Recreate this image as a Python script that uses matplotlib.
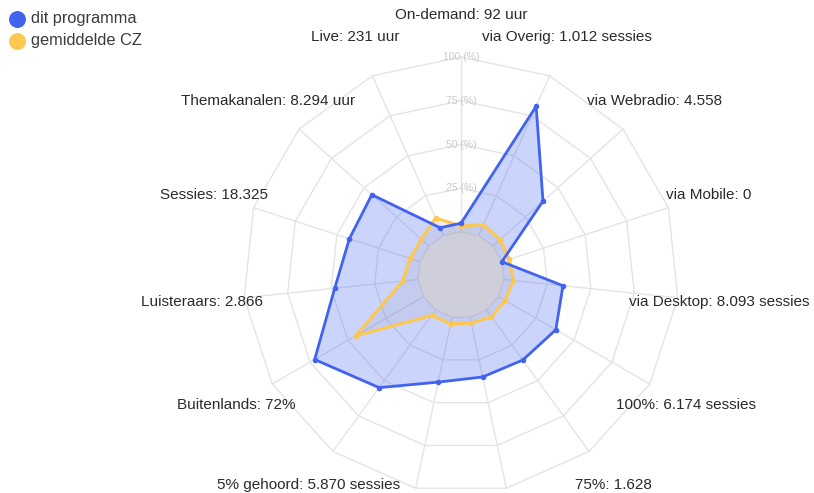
import numpy as np
import matplotlib
matplotlib.use("Agg")
import matplotlib.pyplot as plt

labels = ["On-demand: 92 uur", "via Overig: 1.012 sessies", "via Webradio: 4.558",
          "via Mobile: 0", "via Desktop: 8.093 sessies", "100%: 6.174 sessies",
          "75%: 1.628", "", "", "5% gehoord: 5.870 sessies", "Buitenlands: 72%",
          "Luisteraars: 2.866", "Sessies: 18.325", "Themakanalen: 8.294 uur",
          "Live: 231 uur"]
programma = [5, 81, 38.5, 0, 34, 38, 35.5, 35, 38, 55, 72, 48, 42.5, 44, 5]
gemiddelde = [3.5, 7, 5.5, 4.5, 5.5, 4.5, 5, 3.5, 4, 4, 45, 9, 6, 6, 11]
ticks = [0, 25, 50, 75, 100]
series_names = ["dit programma", "gemiddelde CZ"]

plt.rcParams['font.family'] = ['Liberation Sans', 'DejaVu Sans']

BLUE = "#4262f0"
YELLOW = "#fcc84f"
GRID = "#e4e4e4"

cx, cy = 461, 275      # centre in pixels
r0, k = 43, 1.75       # inner hole radius, px per percent
n = len(labels)
ang = np.deg2rad(np.arange(n) * 360.0 / n)


def xy(vals, extra=0.0):
    r = r0 + np.asarray(vals, dtype=float) * k + extra
    return cx + r * np.sin(ang), cy - r * np.cos(ang)


fig = plt.figure(figsize=(8.14, 4.93), dpi=100)
ax = fig.add_axes([0, 0, 1, 1])
ax.set_xlim(0, 814)
ax.set_ylim(493, 0)
ax.axis("off")

# grid rings and spokes
for t in ticks:
    x, y = xy([t] * n)
    ax.plot(np.append(x, x[0]), np.append(y, y[0]), color=GRID, lw=1, zorder=1)
x0, y0 = xy([0] * n)
x1, y1 = xy([100] * n)
for i in range(n):
    ax.plot([x0[i], x1[i]], [y0[i], y1[i]], color=GRID, lw=1, zorder=1)

# datasets
bx, by = xy(programma)
gx, gy = xy(gemiddelde)
ax.fill(bx, by, color=BLUE, alpha=0.27, lw=0, zorder=2)
ax.fill(gx, gy, color="#8a8a9a", alpha=0.12, lw=0, zorder=3)

# grey hole in the middle
ax.fill(x0, y0, color="#cfcfdc", lw=0, zorder=4)
ax.plot(np.append(x0, x0[0]), np.append(y0, y0[0]), color="#c2c2cc", lw=0.8, zorder=4)

ax.plot(np.append(gx, gx[0]), np.append(gy, gy[0]), color=YELLOW, lw=2.2, zorder=5)
ax.plot(gx, gy, "o", color=YELLOW, ms=3, zorder=5)
ax.plot(np.append(bx, bx[0]), np.append(by, by[0]), color=BLUE, lw=2, zorder=6)
ax.plot(bx, by, "o", color=BLUE, ms=3, zorder=6)

# tick labels on the vertical spoke
for t in ticks:
    ax.text(cx, cy - (r0 + t * k), f"{t} (%)", ha="center", va="center",
            fontsize=7.5, color="#cacaca", zorder=7)

# point labels
lx, ly = xy([100] * n, extra=42)
for i, lab in enumerate(labels):
    ax.text(lx[i], ly[i], lab, ha="center", va="center", fontsize=11,
            color="#2a2a2a", zorder=8)

# legend
for j, (name, col) in enumerate(zip(series_names, [BLUE, YELLOW])):
    ax.scatter([17], [19 + j * 22], s=125, color=col, zorder=8)
    ax.text(31, 19 + j * 22, name, ha="left", va="center", fontsize=11.8,
            color="#3a3a3a", zorder=8)

fig.savefig("out.png", dpi=100)
